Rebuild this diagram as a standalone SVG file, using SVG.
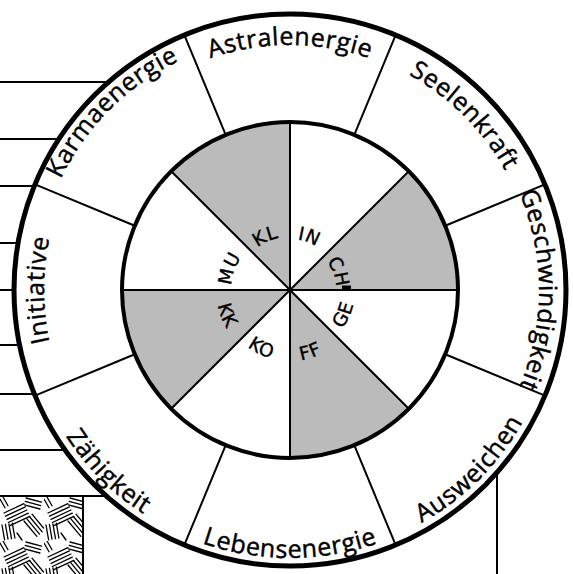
<svg xmlns="http://www.w3.org/2000/svg" xmlns:xlink="http://www.w3.org/1999/xlink" width="573" height="574" viewBox="0 0 573 574">
<style>
.ln{stroke:#000;stroke-width:2;fill:none}
.lbl{font-family:"Open Sans","Noto Sans","DejaVu Sans",sans-serif;font-size:25px;letter-spacing:0.6px;fill:#000;stroke:#000;stroke-width:0.45px}
.inr{font-family:"DejaVu Sans","Open Sans",sans-serif;font-size:18.5px;letter-spacing:1px;fill:#000;stroke:#000;stroke-width:0.4px}
.hat{stroke:#000;stroke-width:1.3;fill:none;stroke-linecap:round}
</style>
<defs>
<pattern id="hatch" x="0" y="497" width="44" height="44" patternUnits="userSpaceOnUse">
<rect width="44" height="44" fill="#fff"/>
<path class="hat" d="M4,16 L23.9,6.7 M5.5,19.2 L25.4,9.9 M7,22.3 L26.9,13 M8.4,25.5 L28.3,16.2 M9.9,28.7 L29.8,19.4"/>
<path class="hat" d="M24,24 L36.9,39.3 M26.7,21.7 L39.5,37.1 M29.4,19.5 L42.2,34.8 M32,17.2 L43.5,31"/>
<path class="hat" d="M2,28 L4.6,42.8 M5.4,27.4 L8,42.2 M8.9,26.8 L11.5,41.6 M12.3,26.2 L14.9,41"/>
<path class="hat" d="M26,1 L41.5,5.1 M25.2,4.4 L40.7,8.6 M24.4,7.8 L39.9,12"/>
<path class="hat" d="M0,2 L5,10.7 M3,0 L8,8.7 M17,36 L22,43"/>
</pattern>
<path id="p-astral" d="M290,535 A245,245 0 0 1 290,45 A245,245 0 0 1 290,535"/>
<path id="p-seelen" d="M116.05,463.95 A246,246 0 0 1 463.95,116.05 A246,246 0 0 1 116.05,463.95"/>
<path id="p-gesch" d="M41,290 A249,249 0 0 1 539,290 A249,249 0 0 1 41,290"/>
<path id="p-ausw" d="M100.5,100.5 A268,268 0 0 0 479.5,479.5 A268,268 0 0 0 100.5,100.5"/>
<path id="p-leben" d="M290,22 A268,268 0 0 0 290,558 A268,268 0 0 0 290,22"/>
<path id="p-zaeh" d="M479.5,100.5 A268,268 0 0 0 100.5,479.5 A268,268 0 0 0 479.5,100.5"/>
<path id="p-init" d="M536,290 A246,246 0 0 1 44,290 A246,246 0 0 1 536,290"/>
<path id="p-karma" d="M470.31,470.31 A255,255 0 0 1 109.69,109.69 A255,255 0 0 1 470.31,470.31"/>
<path id="q-mu" d="M345.61,309.69 A59,59 0 0 1 234.39,270.31 A59,59 0 0 1 345.61,309.69"/>
<path id="q-kl" d="M312.1,338.72 A53.5,53.5 0 0 1 267.9,241.28 A53.5,53.5 0 0 1 312.1,338.72"/>
<path id="q-in" d="M272.31,337.83 A51,51 0 0 1 307.69,242.17 A51,51 0 0 1 272.31,337.83"/>
<path id="q-ch" d="M246.39,306.13 A46.5,46.5 0 0 1 333.61,273.87 A46.5,46.5 0 0 1 246.39,306.13"/>
<path id="q-ge" d="M230.8,263.15 A65,65 0 0 0 349.2,316.85 A65,65 0 0 0 230.8,263.15"/>
<path id="q-ff" d="M267.83,222.55 A71,71 0 0 0 312.17,357.45 A71,71 0 0 0 267.83,222.55"/>
<path id="q-ko" d="M320.9,226.08 A71,71 0 0 0 259.1,353.92 A71,71 0 0 0 320.9,226.08"/>
<path id="q-kk" d="M358.61,262.28 A74,74 0 0 0 221.39,317.72 A74,74 0 0 0 358.61,262.28"/>
</defs>
<rect width="573" height="574" fill="#fff"/>
<g id="side-lines">
<path class="ln" d="M0,82 H290 M0,139 H290 M0,186 H290 M0,243 H290 M0,290 H290 M0,345 H290 M0,394 H290 M0,450 H290 M0,496 H290"/>
<rect x="0" y="497" width="83" height="77" fill="url(#hatch)"/>
<path class="ln" d="M83,496 V574"/>
<path class="ln" d="M497,400 V574"/>
</g>
<g id="outer-ring">
<circle cx="290" cy="290" r="276" fill="#fff" stroke="#000" stroke-width="5"/>
</g>
<g id="connectors">
<path class="ln" d="M445.21,354.29 L544.99,395.62 M354.29,445.21 L395.62,544.99 M225.71,445.21 L184.38,544.99 M134.79,354.29 L35.01,395.62 M134.79,225.71 L35.01,184.38 M225.71,134.79 L184.38,35.01 M354.29,134.79 L395.62,35.01 M445.21,225.71 L544.99,184.38"/>
</g>
<g id="astralenergie"><text class="lbl" text-anchor="middle"><textPath href="#p-astral" xlink:href="#p-astral" startOffset="50%">Astralenergie</textPath></text></g>
<g id="seelenkraft"><text class="lbl" text-anchor="middle"><textPath href="#p-seelen" xlink:href="#p-seelen" startOffset="50%">Seelenkraft</textPath></text></g>
<g id="geschwindigkeit"><text class="lbl" text-anchor="middle"><textPath href="#p-gesch" xlink:href="#p-gesch" startOffset="50%">Geschwindigkeit</textPath></text></g>
<g id="ausweichen"><text class="lbl" text-anchor="middle"><textPath href="#p-ausw" xlink:href="#p-ausw" startOffset="50%">Ausweichen</textPath></text></g>
<g id="lebensenergie"><text class="lbl" text-anchor="middle"><textPath href="#p-leben" xlink:href="#p-leben" startOffset="50%">Lebensenergie</textPath></text></g>
<g id="zaehigkeit"><text class="lbl" text-anchor="middle"><textPath href="#p-zaeh" xlink:href="#p-zaeh" startOffset="50%">Zähigkeit</textPath></text></g>
<g id="initiative"><text class="lbl" text-anchor="middle"><textPath href="#p-init" xlink:href="#p-init" startOffset="50%">Initiative</textPath></text></g>
<g id="karmaenergie"><text class="lbl" text-anchor="middle"><textPath href="#p-karma" xlink:href="#p-karma" startOffset="50%">Karmaenergie</textPath></text></g>
<g id="inner-wheel">
<circle cx="290" cy="290" r="168" fill="#fff"/>
<path fill="#bbb" d="M290,290 L408.79,171.21 A168,168 0 0 1 458,290 Z M290,290 L408.79,408.79 A168,168 0 0 1 290,458 Z M290,290 L171.21,408.79 A168,168 0 0 1 122,290 Z M290,290 L171.21,171.21 A168,168 0 0 1 290,122 Z"/>
<path class="ln" d="M122,290 H458 M290,122 V458 M171.21,171.21 L408.79,408.79 M408.79,171.21 L171.21,408.79"/>
<circle cx="290" cy="290" r="168" fill="none" stroke="#000" stroke-width="4"/>
<rect x="342" y="285.5" width="9" height="4" fill="#000"/>
</g>
<g id="inner-letters">
<text class="inr" text-anchor="middle"><textPath href="#q-mu" xlink:href="#q-mu" startOffset="50%">MU</textPath></text>
<text class="inr" text-anchor="middle"><textPath href="#q-kl" xlink:href="#q-kl" startOffset="50%">KL</textPath></text>
<text class="inr" text-anchor="middle"><textPath href="#q-in" xlink:href="#q-in" startOffset="50%">IN</textPath></text>
<text class="inr" text-anchor="middle"><textPath href="#q-ch" xlink:href="#q-ch" startOffset="50%">CH</textPath></text>
<text class="inr" text-anchor="middle"><textPath href="#q-ge" xlink:href="#q-ge" startOffset="50%">GE</textPath></text>
<text class="inr" text-anchor="middle"><textPath href="#q-ff" xlink:href="#q-ff" startOffset="50%">FF</textPath></text>
<text class="inr" text-anchor="middle"><textPath href="#q-ko" xlink:href="#q-ko" startOffset="50%">KO</textPath></text>
<text class="inr" text-anchor="middle"><textPath href="#q-kk" xlink:href="#q-kk" startOffset="50%">KK</textPath></text>
</g>
</svg>
